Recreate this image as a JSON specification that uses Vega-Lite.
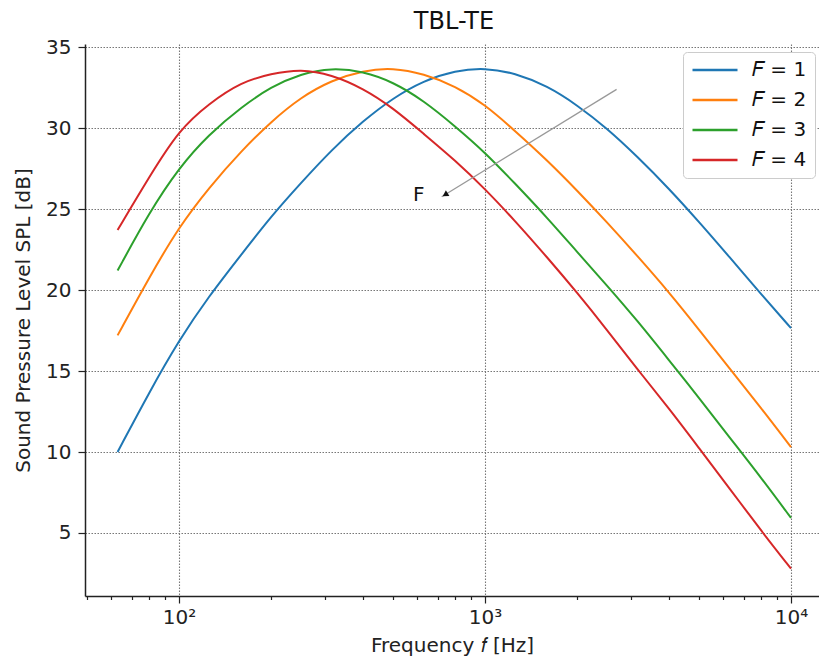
{
  "$schema": "https://vega.github.io/schema/vega-lite/v6.json",
  "width": 734,
  "height": 552,
  "autosize": {"type": "none"},
  "padding": {"left": 85, "top": 44, "right": 0, "bottom": 64},
  "background": "white",
  "config": {
    "font": "DejaVu Sans",
    "view": {"stroke": null},
    "axis": {
      "labelFont": "DejaVu Sans",
      "titleFont": "DejaVu Sans",
      "labelFontSize": 20,
      "titleFontSize": 20,
      "titleFontWeight": "normal",
      "labelColor": "#222",
      "titleColor": "#222",
      "domainColor": "#222",
      "domainWidth": 1.5,
      "tickColor": "#222",
      "tickWidth": 1.2,
      "gridColor": "#777",
      "gridDash": [1.5, 1.5],
      "gridWidth": 1.1,
      "labelFlush": false,
      "labelOverlap": false
    }
  },
  "title": {"text": "TBL-TE", "fontSize": 24, "fontWeight": "normal", "color": "#111", "font": "DejaVu Sans", "offset": 3, "dx": 2},
  "datasets": {
    "curves": [
      {"F": "1", "f": 63, "spl": 10.0}, {"F": "1", "f": 80, "spl": 13.7}, {"F": "1", "f": 100, "spl": 16.9}, {"F": "1", "f": 125, "spl": 19.6},
      {"F": "1", "f": 160, "spl": 22.2}, {"F": "1", "f": 200, "spl": 24.55}, {"F": "1", "f": 250, "spl": 26.6}, {"F": "1", "f": 315, "spl": 28.65},
      {"F": "1", "f": 400, "spl": 30.45}, {"F": "1", "f": 500, "spl": 31.85}, {"F": "1", "f": 630, "spl": 32.93}, {"F": "1", "f": 800, "spl": 33.55},
      {"F": "1", "f": 1000, "spl": 33.72}, {"F": "1", "f": 1250, "spl": 33.4}, {"F": "1", "f": 1600, "spl": 32.6}, {"F": "1", "f": 2000, "spl": 31.42},
      {"F": "1", "f": 2500, "spl": 30.0}, {"F": "1", "f": 3150, "spl": 28.23}, {"F": "1", "f": 4000, "spl": 26.25}, {"F": "1", "f": 5000, "spl": 24.22},
      {"F": "1", "f": 6300, "spl": 22.03}, {"F": "1", "f": 8000, "spl": 19.73}, {"F": "1", "f": 10000, "spl": 17.65},

      {"F": "2", "f": 63, "spl": 17.2}, {"F": "2", "f": 80, "spl": 20.8}, {"F": "2", "f": 100, "spl": 23.9}, {"F": "2", "f": 125, "spl": 26.3},
      {"F": "2", "f": 160, "spl": 28.6}, {"F": "2", "f": 200, "spl": 30.4}, {"F": "2", "f": 250, "spl": 31.9}, {"F": "2", "f": 315, "spl": 32.95},
      {"F": "2", "f": 400, "spl": 33.55}, {"F": "2", "f": 500, "spl": 33.72}, {"F": "2", "f": 630, "spl": 33.35}, {"F": "2", "f": 800, "spl": 32.6},
      {"F": "2", "f": 1000, "spl": 31.45}, {"F": "2", "f": 1250, "spl": 29.85}, {"F": "2", "f": 1600, "spl": 28.0}, {"F": "2", "f": 2000, "spl": 26.15},
      {"F": "2", "f": 2500, "spl": 24.2}, {"F": "2", "f": 3150, "spl": 22.1}, {"F": "2", "f": 4000, "spl": 19.85}, {"F": "2", "f": 5000, "spl": 17.57},
      {"F": "2", "f": 6300, "spl": 15.15}, {"F": "2", "f": 8000, "spl": 12.7}, {"F": "2", "f": 10000, "spl": 10.3},

      {"F": "3", "f": 63, "spl": 21.2}, {"F": "3", "f": 80, "spl": 24.8}, {"F": "3", "f": 100, "spl": 27.55}, {"F": "3", "f": 125, "spl": 29.6},
      {"F": "3", "f": 160, "spl": 31.3}, {"F": "3", "f": 200, "spl": 32.55}, {"F": "3", "f": 250, "spl": 33.35}, {"F": "3", "f": 315, "spl": 33.72},
      {"F": "3", "f": 400, "spl": 33.5}, {"F": "3", "f": 500, "spl": 32.85}, {"F": "3", "f": 630, "spl": 31.7}, {"F": "3", "f": 800, "spl": 30.1},
      {"F": "3", "f": 1000, "spl": 28.5}, {"F": "3", "f": 1250, "spl": 26.6}, {"F": "3", "f": 1600, "spl": 24.45}, {"F": "3", "f": 2000, "spl": 22.35},
      {"F": "3", "f": 2500, "spl": 20.3}, {"F": "3", "f": 3150, "spl": 18.1}, {"F": "3", "f": 4000, "spl": 15.65}, {"F": "3", "f": 5000, "spl": 13.35},
      {"F": "3", "f": 6300, "spl": 10.9}, {"F": "3", "f": 8000, "spl": 8.4}, {"F": "3", "f": 10000, "spl": 5.93},

      {"F": "4", "f": 63, "spl": 23.7}, {"F": "4", "f": 80, "spl": 27.0}, {"F": "4", "f": 100, "spl": 29.88}, {"F": "4", "f": 125, "spl": 31.5},
      {"F": "4", "f": 160, "spl": 32.85}, {"F": "4", "f": 200, "spl": 33.35}, {"F": "4", "f": 250, "spl": 33.65}, {"F": "4", "f": 315, "spl": 33.3},
      {"F": "4", "f": 400, "spl": 32.45}, {"F": "4", "f": 500, "spl": 31.25}, {"F": "4", "f": 630, "spl": 29.65}, {"F": "4", "f": 800, "spl": 28.0},
      {"F": "4", "f": 1000, "spl": 26.25}, {"F": "4", "f": 1250, "spl": 24.3}, {"F": "4", "f": 1600, "spl": 22.0}, {"F": "4", "f": 2000, "spl": 19.84},
      {"F": "4", "f": 2500, "spl": 17.56}, {"F": "4", "f": 3150, "spl": 15.1}, {"F": "4", "f": 4000, "spl": 12.67}, {"F": "4", "f": 5000, "spl": 10.25},
      {"F": "4", "f": 6300, "spl": 7.75}, {"F": "4", "f": 8000, "spl": 5.12}, {"F": "4", "f": 10000, "spl": 2.8}
    ]
  },
  "layer": [
    {
      "data": {"name": "curves"},
      "mark": {"type": "line", "strokeWidth": 2, "clip": true, "interpolate": "basis"},
      "encoding": {
        "x": {
          "field": "f", "type": "quantitative",
          "scale": {"type": "log", "domain": [49.3, 12346], "nice": false},
          "axis": {
            "title": "Frequency 𝑓 [Hz]",
            "values": [50, 60, 70, 80, 90, 100, 200, 300, 400, 500, 600, 700, 800, 900, 1000, 2000, 3000, 4000, 5000, 6000, 7000, 8000, 9000, 10000],
            "labelExpr": "datum.value == 100 ? '10²' : datum.value == 1000 ? '10³' : datum.value == 10000 ? '10⁴' : ''",
            "tickSize": {"condition": {"test": "indexof([100,1000,10000], datum.value) >= 0", "value": 7}, "value": 3.5},
            "gridOpacity": {"condition": {"test": "indexof([100,1000,10000], datum.value) >= 0", "value": 1}, "value": 0},
            "grid": true,
            "labelPadding": 4,
            "titlePadding": 8
          }
        },
        "y": {
          "field": "spl", "type": "quantitative",
          "scale": {"domain": [1.11, 35.19], "nice": false, "zero": false},
          "axis": {
            "title": "Sound Pressure Level SPL [dB]",
            "values": [5, 10, 15, 20, 25, 30, 35],
            "tickSize": 7,
            "labelPadding": 7,
            "titlePadding": 12,
            "grid": true
          }
        },
        "color": {
          "field": "F", "type": "nominal",
          "scale": {"domain": ["1", "2", "3", "4"], "range": ["#1f77b4", "#ff7f0e", "#2ca02c", "#d62728"]},
          "legend": {
            "title": null,
            "orient": "none",
            "legendX": 598,
            "legendY": 8,
            "symbolType": "stroke",
            "symbolSize": 2025,
            "symbolStrokeWidth": 2.5,
            "clipHeight": 20,
            "rowPadding": 10,
            "labelOffset": 13,
            "padding": 8,
            "labelFontSize": 20,
            "labelFont": "DejaVu Sans",
            "labelColor": "#111",
            "fillColor": "white",
            "strokeColor": "#ccc",
            "cornerRadius": 4,
            "labelExpr": "'𝐹 = ' + datum.label"
          }
        }
      }
    },
    {
      "data": {"values": [{"f": 2692, "spl": 32.39, "f2": 722, "spl2": 25.76}]},
      "mark": {"type": "rule", "color": "#999", "strokeWidth": 1.3},
      "encoding": {
        "x": {"field": "f", "type": "quantitative"},
        "y": {"field": "spl", "type": "quantitative"},
        "x2": {"field": "f2"},
        "y2": {"field": "spl2"}
      }
    },
    {
      "data": {"values": [{"f": 741, "spl": 25.89}]},
      "mark": {"type": "point", "shape": "triangle-up", "angle": 238.5, "size": 45, "filled": true, "color": "#111", "opacity": 1},
      "encoding": {
        "x": {"field": "f", "type": "quantitative"},
        "y": {"field": "spl", "type": "quantitative"}
      }
    },
    {
      "data": {"values": [{"f": 608, "spl": 25.86, "label": "F"}]},
      "mark": {"type": "text", "fontSize": 20, "font": "DejaVu Sans", "color": "#111", "align": "center", "baseline": "middle"},
      "encoding": {
        "x": {"field": "f", "type": "quantitative"},
        "y": {"field": "spl", "type": "quantitative"},
        "text": {"field": "label"}
      }
    },
    {
      "mark": {"type": "rule", "color": "#222", "strokeWidth": 1.5},
      "encoding": {"y": {"datum": 35.19}}
    }
  ]
}
